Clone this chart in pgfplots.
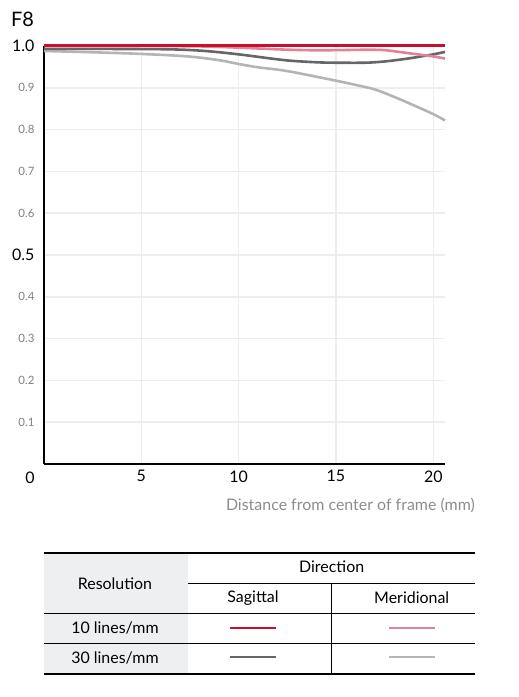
\documentclass[border=0pt]{standalone}
\usepackage{pgfplots}
\pgfplotsset{compat=1.18}
\usepackage{fontspec}
\setmainfont{Lato}

\definecolor{sag10}{HTML}{C8102E}
\definecolor{mer10}{HTML}{E2829A}
\definecolor{sag30}{HTML}{666666}
\definecolor{mer30}{HTML}{B4B4B4}
\definecolor{gridc}{HTML}{EDEDED}
\definecolor{lbl}{HTML}{808080}
\definecolor{xlab}{HTML}{8C8C8C}
\definecolor{cellbg}{HTML}{EEEFF1}

\newcommand\sm[1]{{\fontsize{11.5}{13}\selectfont\color{lbl}#1}}
\newcommand\bg[1]{{\fontsize{16}{18}\selectfont #1}}

\begin{document}
\begin{tikzpicture}
\useasboundingbox (0,0) rectangle (519bp,697bp);

\begin{axis}[
  at={(44bp,233bp)}, anchor=south west,
  scale only axis, width=401bp, height=418bp,
  xmin=0, xmax=20.6, ymin=0, ymax=1.0,
  clip=false,
  axis x line=bottom, axis y line=left,
  axis line style={-, line width=1.6bp, black},
  major tick length=0,
  grid=major,
  major grid style={color=gridc, line width=1.5bp},
  xtick={5,10,15,20},
  xticklabels={\bg{5},\bg{10},\bg{15},\bg{20}},
  xticklabel style={yshift=-3bp},
  ytick={0.1,0.2,0.3,0.4,0.5,0.6,0.7,0.8,0.9,1.0},
  yticklabels={\sm{0.1},\sm{0.2},\sm{0.3},\sm{0.4},\bg{0.5},\sm{0.6},\sm{0.7},\sm{0.8},\sm{0.9},\bg{1.0}},
  yticklabel style={xshift=-6bp},
  every axis plot/.append style={no marks, smooth, tension=0.5},
]
% 30 lines/mm, meridional
\addplot[mer30, line width=2.6bp] coordinates {
  (0,0.988) (2.5,0.985) (5,0.981) (7.4,0.975) (9,0.966) (10,0.957)
  (11,0.949) (12.5,0.940) (15,0.917) (16,0.907) (17,0.896) (18,0.878)
  (19,0.858) (20,0.837) (20.6,0.822)};
% 30 lines/mm, sagittal
\addplot[sag30, line width=2.6bp] coordinates {
  (0,0.993) (3,0.993) (6.5,0.992) (8.3,0.988) (10,0.980) (11.5,0.971)
  (12.6,0.965) (14,0.961) (15,0.960) (16.5,0.960) (17.5,0.963)
  (18.7,0.970) (20,0.980) (20.6,0.986)};
% 10 lines/mm, meridional
\addplot[mer10, line width=2.6bp] coordinates {
  (0,1.0) (5,1.0) (8,0.999) (10,0.996) (12,0.992) (13.5,0.990)
  (15,0.990) (16.5,0.991) (17.5,0.990) (18.7,0.983) (20,0.975) (20.6,0.970)};
% 10 lines/mm, sagittal
\addplot[sag10, line width=3bp] coordinates {
  (0,1.0) (10,1.0) (20.6,1.0)};

\node[anchor=north, inner sep=0pt] at (axis cs:0,0) [xshift=-14bp, yshift=-8bp] {\bg{0}};
\end{axis}

\begin{scope}[x=1bp, y=1bp]
  \node[anchor=west, inner sep=0pt] at (11,678) {\fontsize{20}{22}\selectfont F8};
  \node[anchor=east, inner sep=0pt] at (475,192)
    {\fontsize{16}{18}\selectfont\color{xlab}Distance from center of frame (mm)};

  % table
  \fill[cellbg] (44,23) rectangle (188,144.3);
  \draw[line width=0.9] (188,113.7) -- (475,113.7);
  \draw[line width=0.9] (44,83.7) -- (475,83.7);
  \draw[line width=0.9] (44,53.7) -- (475,53.7);
  \draw[line width=0.9] (331.3,113.7) -- (331.3,23);
  \draw[line width=1.8] (44,144.3) -- (475,144.3);
  \draw[line width=1.8] (44,23) -- (475,23);

  \begin{scope}[every node/.style={inner sep=0pt, font=\fontsize{16}{18}\selectfont}]
    \node at (331.7,130) {Direction};
    \node at (115,113) {Resolution};
    \node at (253,99) {Sagittal};
    \node at (411.7,99) {Meridional};
    \node at (115,69.3) {10 lines/mm};
    \node at (115,39) {30 lines/mm};
  \end{scope}

  \draw[sag10, line width=3] (230,69) -- (276,69);
  \draw[mer10, line width=3] (389,69) -- (435,69);
  \draw[sag30, line width=3] (230,40) -- (276,40);
  \draw[mer30, line width=3] (389,40) -- (435,40);
\end{scope}
\end{tikzpicture}
\end{document}
